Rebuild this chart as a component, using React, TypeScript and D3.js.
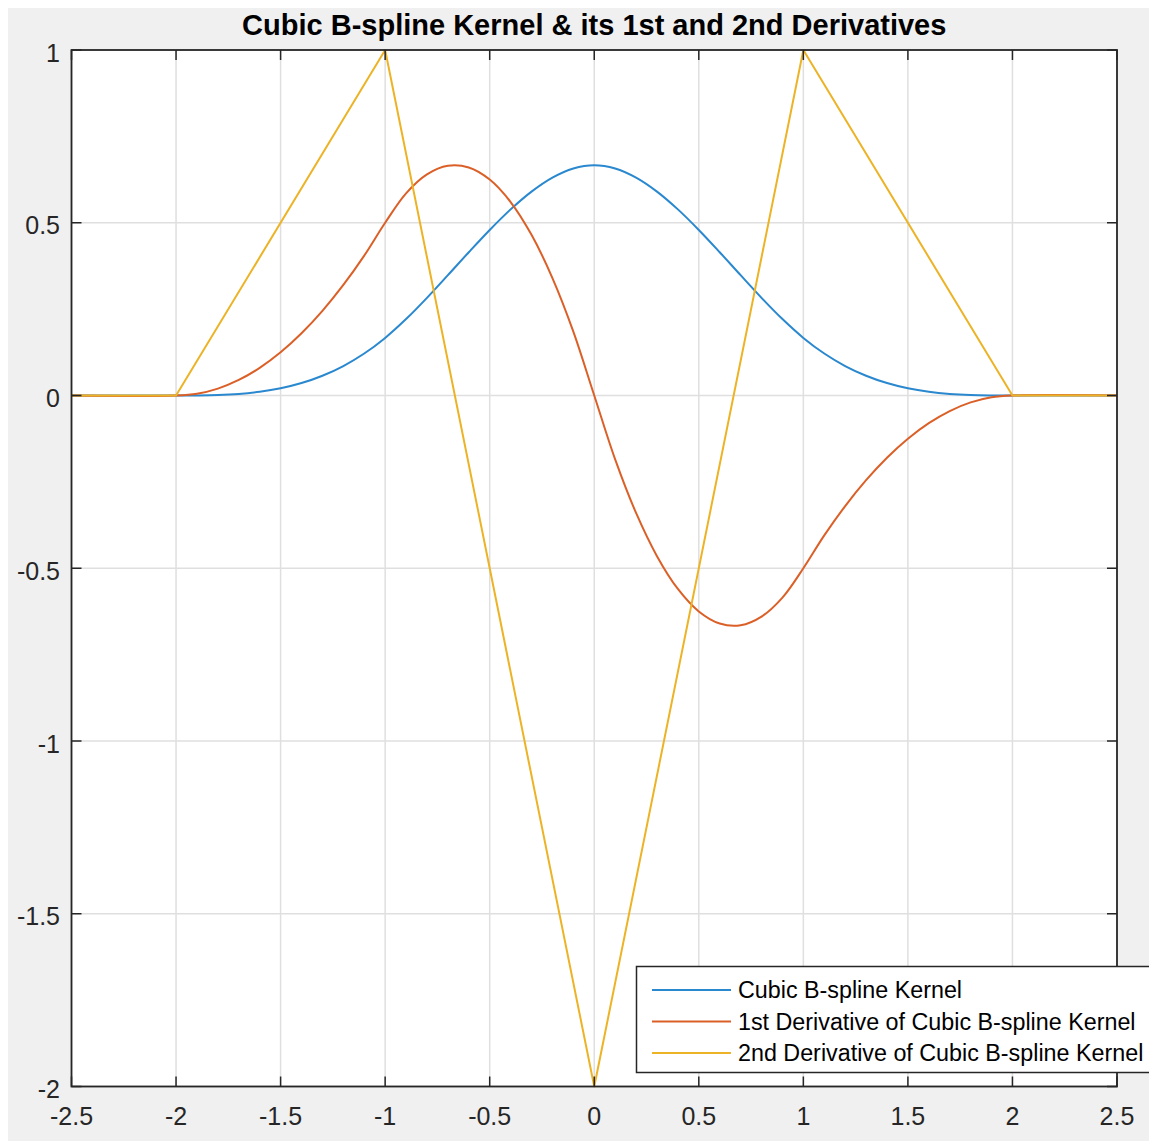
import React from "react";
import * as d3 from "d3";

// x samples (kernel support), step 0.1
const xSamples = [
  -2.5, -2.0, -1.9, -1.8, -1.7, -1.6, -1.5, -1.4, -1.3, -1.2, -1.1, -1.0,
  -0.9, -0.8, -0.7, -0.6, -0.5, -0.4, -0.3, -0.2, -0.1, 0.0,
  0.1, 0.2, 0.3, 0.4, 0.5, 0.6, 0.7, 0.8, 0.9, 1.0,
  1.1, 1.2, 1.3, 1.4, 1.5, 1.6, 1.7, 1.8, 1.9, 2.0, 2.5,
];

const kernelValues = [
  0, 0, 0.0002, 0.0013, 0.0045, 0.0107, 0.0208, 0.036, 0.0572, 0.0853, 0.1215, 0.1667,
  0.2212, 0.2827, 0.3482, 0.4147, 0.4792, 0.5387, 0.5902, 0.6307, 0.6572, 0.6667,
  0.6572, 0.6307, 0.5902, 0.5387, 0.4792, 0.4147, 0.3482, 0.2827, 0.2212, 0.1667,
  0.1215, 0.0853, 0.0572, 0.036, 0.0208, 0.0107, 0.0045, 0.0013, 0.0002, 0, 0,
];

const firstDerivValues = [
  0, 0, 0.005, 0.02, 0.045, 0.08, 0.125, 0.18, 0.245, 0.32, 0.405, 0.5,
  0.585, 0.64, 0.665, 0.66, 0.625, 0.56, 0.465, 0.34, 0.185, 0,
  -0.185, -0.34, -0.465, -0.56, -0.625, -0.66, -0.665, -0.64, -0.585, -0.5,
  -0.405, -0.32, -0.245, -0.18, -0.125, -0.08, -0.045, -0.02, -0.005, 0, 0,
];

const secondDerivX = [-2.5, -2, -1, 0, 1, 2, 2.5];
const secondDerivValues = [0, 0, 1, -2, 1, 0, 0];

const xTicks = [-2.5, -2, -1.5, -1, -0.5, 0, 0.5, 1, 1.5, 2, 2.5];
const yTicks = [-2, -1.5, -1, -0.5, 0, 0.5, 1];
const xTickLabels = ["-2.5", "-2", "-1.5", "-1", "-0.5", "0", "0.5", "1", "1.5", "2", "2.5"];
const yTickLabels = ["-2", "-1.5", "-1", "-0.5", "0", "0.5", "1"];

const seriesNames = [
  "Cubic B-spline Kernel",
  "1st Derivative of Cubic B-spline Kernel",
  "2nd Derivative of Cubic B-spline Kernel",
];
const seriesColors = ["#2a88cf", "#db6028", "#edb326"];

const titleText = "Cubic B-spline Kernel & its 1st and 2nd Derivatives";

export default function App() {
  const W = 1149;
  const H = 1141;
  const left = 71.5;
  const right = 1117;
  const top = 50;
  const bottom = 1086.5;
  const font = "'Liberation Sans', Arial, Helvetica, sans-serif";
  const axisColor = "#262626";

  const x = d3.scaleLinear().domain([-2.5, 2.5]).range([left, right]);
  const y = d3.scaleLinear().domain([-2, 1]).range([bottom, top]);

  const smooth = d3
    .line<[number, number]>()
    .x((d) => x(d[0]))
    .y((d) => y(d[1]))
    .curve(d3.curveCatmullRom.alpha(0.5));
  const straight = d3
    .line<[number, number]>()
    .x((d) => x(d[0]))
    .y((d) => y(d[1]));

  const kernelPath = smooth(xSamples.map((v, i) => [v, kernelValues[i]] as [number, number]));
  const d1Path = smooth(xSamples.map((v, i) => [v, firstDerivValues[i]] as [number, number]));
  const d2Path = straight(secondDerivX.map((v, i) => [v, secondDerivValues[i]] as [number, number]));
  const paths = [kernelPath, d1Path, d2Path];

  const tickLen = 10;
  const legend = { x: 636.5, y: 966.5, w: 540, h: 106, rows: [990, 1021.5, 1053] };

  return (
    <svg
      width={W}
      height={H}
      style={{ display: "block", position: "fixed", left: 0, top: 0 }}
    >
      <rect x={0} y={0} width={W} height={H} fill="#ffffff" />
      <rect x={8} y={8} width={W} height={H} fill="#f0f0f0" />
      <rect x={left} y={top} width={right - left} height={bottom - top} fill="#ffffff" />
      {/* grid */}
      {xTicks.map((t, i) => (
        <line key={"gx" + i} x1={x(t)} x2={x(t)} y1={top} y2={bottom} stroke="#dfdfdf" strokeWidth={1.5} />
      ))}
      {yTicks.map((t, i) => (
        <line key={"gy" + i} x1={left} x2={right} y1={y(t)} y2={y(t)} stroke="#dfdfdf" strokeWidth={1.5} />
      ))}
      {/* curves */}
      {paths.map((p, i) => (
        <path key={"p" + i} d={p || ""} fill="none" stroke={seriesColors[i]} strokeWidth={2} strokeLinejoin="round" />
      ))}
      {/* ticks */}
      {xTicks.map((t, i) => (
        <g key={"tx" + i}>
          <line x1={x(t)} x2={x(t)} y1={bottom} y2={bottom - tickLen} stroke={axisColor} strokeWidth={1.5} />
          <line x1={x(t)} x2={x(t)} y1={top} y2={top + tickLen} stroke={axisColor} strokeWidth={1.5} />
          <text x={x(t)} y={1125} textAnchor="middle" fontFamily={font} fontSize={25} fill={axisColor}>
            {xTickLabels[i]}
          </text>
        </g>
      ))}
      {yTicks.map((t, i) => (
        <g key={"ty" + i}>
          <line x1={left} x2={left + tickLen} y1={y(t)} y2={y(t)} stroke={axisColor} strokeWidth={1.5} />
          <line x1={right} x2={right - tickLen} y1={y(t)} y2={y(t)} stroke={axisColor} strokeWidth={1.5} />
          <text x={60} y={y(t) + 11.5} textAnchor="end" fontFamily={font} fontSize={25} fill={axisColor}>
            {yTickLabels[i]}
          </text>
        </g>
      ))}
      {/* box */}
      <rect x={left} y={top} width={right - left} height={bottom - top} fill="none" stroke={axisColor} strokeWidth={1.8} />
      {/* title */}
      <text x={(left + right) / 2} y={35} textAnchor="middle" fontFamily={font} fontSize={29} fontWeight="bold" fill="#000">
        {titleText}
      </text>
      {/* legend */}
      <rect x={legend.x} y={legend.y} width={legend.w} height={legend.h} fill="#ffffff" stroke={axisColor} strokeWidth={1.5} />
      {seriesNames.map((name, i) => (
        <g key={"l" + i}>
          <line x1={652} x2={731} y1={legend.rows[i]} y2={legend.rows[i]} stroke={seriesColors[i]} strokeWidth={2} />
          <text x={738} y={legend.rows[i] + 8} fontFamily={font} fontSize={23.3} fill="#000">
            {name}
          </text>
        </g>
      ))}
    </svg>
  );
}
